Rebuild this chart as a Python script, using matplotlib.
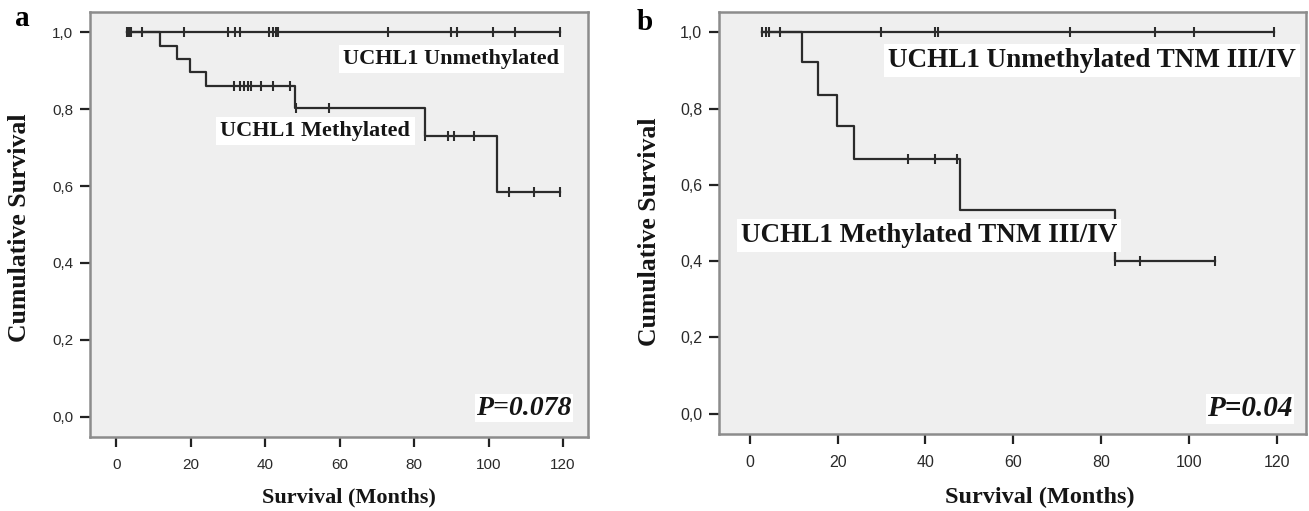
import matplotlib
matplotlib.use("Agg")
import matplotlib.pyplot as plt

# ---- panel a: all stages ----
a_unmeth_censor = [3.0, 3.5, 4.0, 6.9, 18.2, 30.0, 31.9, 33.3, 41.0, 42.0, 42.8, 43.5,
                   73.1, 90.0, 91.6, 101.2, 107.2, 119.2]
a_meth_drops = [11.7, 16.3, 19.9, 24.0, 48.1, 82.8, 102.3]
a_meth_levels = [1.0, 0.964, 0.931, 0.897, 0.861, 0.802, 0.730, 0.584]
a_meth_censor_t = [31.7, 33.3, 34.3, 35.3, 36.3, 38.9, 42.0, 46.6,
                   48.3, 57.2,
                   82.9, 89.2, 90.7, 96.1,
                   105.6, 112.3, 119.2]
a_meth_censor_s = [0.861] * 8 + [0.802] * 2 + [0.730] * 4 + [0.584] * 3

# ---- panel b: TNM III/IV ----
b_unmeth_censor = [2.9, 3.6, 4.4, 6.8, 29.9, 42.3, 42.8, 72.9, 92.3, 101.1, 119.3]
b_meth_drops = [11.9, 15.5, 19.9, 23.8, 47.9, 83.1]
b_meth_levels = [1.0, 0.923, 0.836, 0.754, 0.669, 0.535, 0.40]
b_meth_censor_t = [36.0, 42.1, 47.1, 83.1, 88.9, 105.9]
b_meth_censor_s = [0.669] * 3 + [0.40] * 3

x_ticks = [0, 20, 40, 60, 80, 100, 120]
y_ticks = [0.0, 0.2, 0.4, 0.6, 0.8, 1.0]
y_tick_labels = ["0,0", "0,2", "0,4", "0,6", "0,8", "1,0"]

SERIF = ["Liberation Serif", "DejaVu Serif"]
SANS = ["Liberation Sans", "DejaVu Sans"]
LINE = "#2b2b2b"
TXT = "#151515"


def style_axes(ax, tick_fs):
    ax.set_facecolor("#efefef")
    for sp in ax.spines.values():
        sp.set_color("#8c8c8c")
        sp.set_linewidth(1.8)
    ax.set_xlim(-7.0, 126.7)
    ax.set_ylim(-0.053, 1.053)
    ax.set_xticks(x_ticks)
    ax.set_yticks(y_ticks)
    ax.set_yticklabels(y_tick_labels)
    ax.tick_params(axis="x", direction="out", length=7, width=1.6, color="#222222",
                   pad=8, labelsize=tick_fs, labelcolor="#2a2a2a")
    ax.tick_params(axis="y", direction="out", length=7, width=1.6, color="#222222",
                   pad=5, labelsize=tick_fs, labelcolor="#2a2a2a")
    for lab in ax.get_xticklabels() + ax.get_yticklabels():
        lab.set_family(SANS)


def draw_curves(ax, unmeth_censor, drops, levels, cens_t, cens_s, end_meth):
    # unmethylated: flat at 1.0
    ax.plot([unmeth_censor[0], unmeth_censor[-1]], [1.0, 1.0], color=LINE, lw=1.6)
    ax.plot(unmeth_censor, [1.0] * len(unmeth_censor), ls="none", marker="|",
            ms=7, mew=1.5, color=LINE)
    # methylated step curve
    xs = [unmeth_censor[0]] + drops + [end_meth]
    ys = levels + [levels[-1]]
    ax.step(xs, ys, where="post", color=LINE, lw=1.6)
    ax.plot(cens_t, cens_s, ls="none", marker="|", ms=7, mew=1.5, color=LINE)


fig = plt.figure(figsize=(13.09, 5.11), dpi=100)
W, H = 1309, 511

# panel a
ax1 = fig.add_axes([0.0688, 0.1448, 0.3804, 0.8317])
style_axes(ax1, 11)
draw_curves(ax1, a_unmeth_censor, a_meth_drops, a_meth_levels,
            a_meth_censor_t, a_meth_censor_s, a_meth_censor_t[-1])
box = dict(facecolor="white", edgecolor="none", pad=3)
ax1.text(90.0, 0.930, "UCHL1 Unmethylated", family=SERIF, weight="bold", fontsize=16,
         ha="center", va="center", color=TXT, bbox=box)
ax1.text(53.5, 0.743, "UCHL1 Methylated", family=SERIF, weight="bold", fontsize=16,
         ha="center", va="center", color=TXT, bbox=box)
ax1.text(109.5, 0.022, "P=0.078", family=SERIF, weight="bold", style="italic",
         fontsize=20, ha="center", va="center", color=TXT,
         bbox=dict(facecolor="white", edgecolor="none", pad=1))

# panel b
ax2 = fig.add_axes([0.5493, 0.1507, 0.4484, 0.8258])
style_axes(ax2, 11.5)
draw_curves(ax2, b_unmeth_censor, b_meth_drops, b_meth_levels,
            b_meth_censor_t, b_meth_censor_s, b_meth_censor_t[-1])
ax2.text(77.9, 0.927, "UCHL1 Unmethylated TNM III/IV", family=SERIF, weight="bold",
         fontsize=19.5, ha="center", va="center", color=TXT, bbox=box)
ax2.text(40.8, 0.467, "UCHL1 Methylated TNM III/IV", family=SERIF, weight="bold",
         fontsize=19.5, ha="center", va="center", color=TXT, bbox=box)
ax2.text(114.0, 0.013, "P=0.04", family=SERIF, weight="bold", style="italic",
         fontsize=21, ha="center", va="center", color=TXT,
         bbox=dict(facecolor="white", edgecolor="none", pad=1))

# axis titles placed in figure pixels
fig.text(349 / W, 1 - 497 / H, "Survival (Months)", family=SERIF, weight="bold",
         fontsize=16, ha="center", va="center", color=TXT)
fig.text(20 / W, 1 - 228 / H, "Cumulative Survival", family=SERIF, weight="bold",
         fontsize=18.5, ha="center", va="center", rotation=90, color=TXT)
fig.text(1040 / W, 1 - 497 / H, "Survival (Months)", family=SERIF, weight="bold",
         fontsize=17.5, ha="center", va="center", color=TXT)
fig.text(650 / W, 1 - 232 / H, "Cumulative Survival", family=SERIF, weight="bold",
         fontsize=18.5, ha="center", va="center", rotation=90, color=TXT)

fig.text(22 / W, 1 - 18 / H, "a", family=SERIF, weight="bold", fontsize=21,
         ha="center", va="center")
fig.text(645 / W, 1 - 22 / H, "b", family=SERIF, weight="bold", fontsize=21,
         ha="center", va="center")

fig.savefig("out.png", dpi=100, facecolor="white")
